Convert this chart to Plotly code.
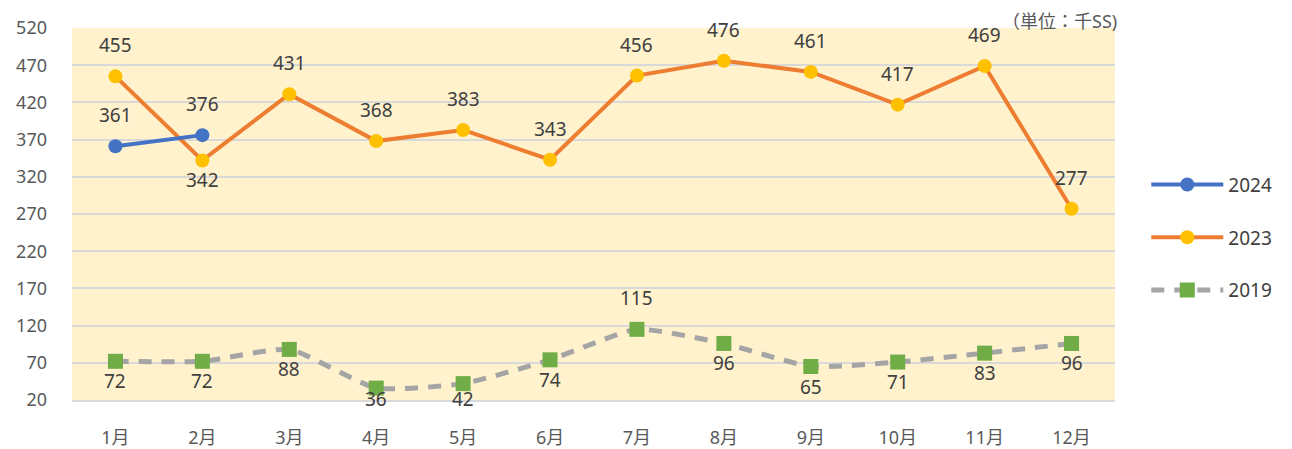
import plotly.graph_objects as go

months = ["1月", "2月", "3月", "4月", "5月", "6月", "7月", "8月", "9月", "10月", "11月", "12月"]
v2024 = [361, 376]
v2023 = [455, 342, 431, 368, 383, 343, 456, 476, 461, 417, 469, 277]
v2019 = [72, 72, 88, 36, 42, 74, 115, 96, 65, 71, 83, 96]
y_ticks = list(range(20, 521, 50))

# label side: +1 above, -1 below
pos2024 = [1, 1]
pos2023 = [1, -1, 1, 1, 1, 1, 1, 1, 1, 1, 1, 1]
pos2019 = [-1, -1, -1, -1, -1, -1, 1, -1, -1, -1, -1, -1]

FONT = "Noto Sans, Noto Sans CJK JP, sans-serif"
LBL = "#404040"
TICK = "#595959"

W, H = 1284, 449
ML, MR, MT, MB = 64, 177, 20, 57
YMIN, YMAX = 20, 520
px_per_unit = (H - MT - MB) / (YMAX - YMIN)

fig = go.Figure()
fig.add_trace(go.Scatter(x=months, y=v2019, name="2019", mode="lines+markers",
                         legendgroup="c", legendrank=3,
                         line=dict(color="#A5A5A5", width=5, dash="13px,10px", shape="spline", smoothing=0.5),
                         marker=dict(color="#70AD47", size=15, symbol="square")))
fig.add_trace(go.Scatter(x=months, y=v2023, name="2023", mode="lines+markers",
                         legendgroup="b", legendrank=2,
                         line=dict(color="#ED7D31", width=4),
                         marker=dict(color="#FFC000", size=14, symbol="circle")))
fig.add_trace(go.Scatter(x=months[:len(v2024)], y=v2024, name="2024", mode="lines+markers",
                         legendgroup="a", legendrank=1,
                         line=dict(color="#4472C4", width=4),
                         marker=dict(color="#4472C4", size=14, symbol="circle")))

ann = []
for vals, poss in [(v2024, pos2024), (v2023, pos2023), (v2019, pos2019)]:
    for x, v, p in zip(months, vals, poss):
        if p > 0:
            shift = 31
        else:
            # keep below-labels from dropping under the plot bottom
            py = (v - YMIN) * px_per_unit
            shift = -min(20, py - 1)
        ann.append(dict(x=x, y=v, xref="x", yref="y", text=str(v), showarrow=False,
                        yshift=shift, font=dict(size=19, color=LBL, family=FONT)))
ann.append(dict(x=1.003, y=1.0, xref="paper", yref="paper", text="（単位：千SS)", showarrow=False,
                xanchor="right", yanchor="top", yshift=MT, borderpad=0,
                font=dict(size=18, color=TICK, family=FONT)))

fig.update_layout(
    width=W, height=H,
    margin=dict(l=ML, r=MR, t=MT, b=MB, autoexpand=False),
    paper_bgcolor="white", plot_bgcolor="#FFF2CC",
    font=dict(family=FONT, color=TICK, size=18),
    annotations=ann,
    legend=dict(x=1.03, y=0.63, xanchor="left", yanchor="top", tracegroupgap=25,
                itemwidth=72, traceorder="grouped",
                font=dict(size=19, color=LBL, family=FONT),
                bgcolor="rgba(0,0,0,0)"),
    showlegend=True,
)
fig.update_xaxes(showgrid=False, ticks="", tickfont=dict(size=18, color=TICK),
                 showline=True, linecolor="#D9D9D9", linewidth=2, automargin=False,
                 range=[-0.5, 11.5], ticklabelstandoff=20)
fig.update_yaxes(range=[YMIN, YMAX], tickvals=y_ticks, showgrid=True, gridcolor="#D9D9D9", gridwidth=2,
                 zeroline=False, tickfont=dict(size=18, color=TICK), ticklabelstandoff=24,
                 automargin=False)

fig.write_html("out.html")
